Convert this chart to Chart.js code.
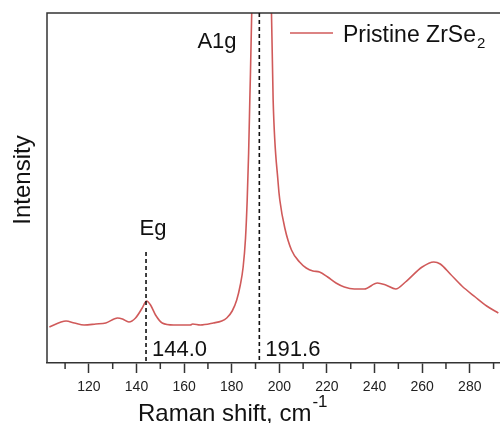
<!DOCTYPE html>
<html>
<head>
<meta charset="utf-8">
<script src="https://cdn.jsdelivr.net/npm/chart.js@4.4.1/dist/chart.umd.min.js"></script>
<style>
  html, body { margin: 0; padding: 0; background: #fff; overflow: hidden; }
  #wrap { width: 500px; height: 423px; position: relative; }
</style>
</head>
<body>
<div id="wrap"><canvas id="ramanChart"></canvas></div>
<script>
// Raman shift (cm^-1) and intensity (arb. units)
var ramanShift = [103.4, 108.3, 110.4, 113.9, 118.0, 122.9, 127.1, 132.0, 134.1, 136.8,
  139.6, 142.4, 144.2, 145.9, 148.0, 150.8, 155.6, 162.6, 163.6, 166.8,
  172.3, 175.8, 177.9, 180.2, 182.1, 183.6, 184.8, 185.8, 186.5, 187.1,
  187.6, 188.4, 189.2, 190.3, 192.4, 194.6, 196.0,
  196.7, 197.4, 199.5, 200.2, 202.3, 205.1, 208.5, 211.3, 214.1, 216.9,
  220.3, 223.8, 227.3, 231.5, 235.7, 241.2, 244.7, 248.9, 253.0, 260.0,
  264.9, 267.6, 271.8, 276.7, 282.3, 287.1, 292.0];
var intensity = [36, 41, 42, 40, 38, 39, 40, 45, 44, 41,
  45, 55, 62, 58, 48, 40, 38, 38, 39, 38,
  40, 42, 45, 52, 63, 78, 96, 125, 163, 210,
  263, 350, 500, 900, 1400, 900, 500,
  350, 263, 180, 163, 135, 113, 101, 95, 92, 91,
  86, 80, 76, 74, 74, 80, 78, 74, 81, 96,
  101, 99, 89, 77, 66, 57, 50];

// peak markers: [position, label, top of dashed line]
var peakPos = [144.0, 191.6];
var peakLabels = ['144.0', '191.6'];
var modeNames = ['Eg', 'A1g'];
var markerTop = [111, 350];

var xTicksMajor = [120, 140, 160, 180, 200, 220, 240, 260, 280];

var points = ramanShift.map(function (x, i) { return { x: x, y: intensity[i] }; });

var textFont = "'Liberation Sans', Arial, sans-serif";

var decorations = {
  id: 'decorations',
  afterDraw: function (chart) {
    var c = chart.ctx, a = chart.chartArea;
    var xs = chart.scales.x, ys = chart.scales.y;
    c.save();

    // frame: left and top
    c.strokeStyle = '#333';
    c.lineWidth = 1.5;
    c.beginPath();
    c.moveTo(a.left, a.bottom);
    c.lineTo(a.left, a.top);
    c.lineTo(a.right, a.top);
    c.stroke();

    // minor ticks
    for (var v = 110; v <= 290; v += 20) {
      var px = xs.getPixelForValue(v);
      c.beginPath();
      c.moveTo(px, a.bottom);
      c.lineTo(px, a.bottom + 6);
      c.stroke();
    }

    // dashed peak markers
    c.strokeStyle = '#111';
    c.lineWidth = 1.6;
    c.setLineDash([4, 3]);
    peakPos.forEach(function (p, i) {
      var px = xs.getPixelForValue(p);
      c.beginPath();
      c.moveTo(px, ys.getPixelForValue(markerTop[i]));
      c.lineTo(px, a.bottom);
      c.stroke();
    });
    c.setLineDash([]);

    c.fillStyle = '#111';
    c.textBaseline = 'alphabetic';

    // peak position labels
    c.font = '22px ' + textFont;
    c.textAlign = 'left';
    peakPos.forEach(function (p, i) {
      c.fillText(peakLabels[i], xs.getPixelForValue(p) + 6, a.bottom - 7);
    });

    // mode names
    c.textAlign = 'center';
    c.fillText(modeNames[0], xs.getPixelForValue(peakPos[0]) + 7, 235);
    c.fillText(modeNames[1], 217, 48);

    // legend
    c.strokeStyle = '#d05a5a';
    c.lineWidth = 1.5;
    c.beginPath();
    c.moveTo(290, 33);
    c.lineTo(333, 33);
    c.stroke();
    c.textAlign = 'left';
    c.font = '23px ' + textFont;
    c.fillText('Pristine ZrSe', 343, 42);
    var lw = c.measureText('Pristine ZrSe').width;
    c.font = '15px ' + textFont;
    c.fillText('2', 343 + lw + 1, 48);

    // x axis title with superscript
    c.font = '24px ' + textFont;
    c.fillText('Raman shift, cm', 138, 421);
    var tw = c.measureText('Raman shift, cm').width;
    c.font = '17px ' + textFont;
    c.fillText('-1', 138 + tw + 1, 407);

    // y axis title
    c.translate(23, 180);
    c.rotate(-Math.PI / 2);
    c.font = '24px ' + textFont;
    c.textAlign = 'center';
    c.textBaseline = 'middle';
    c.fillText('Intensity', 0, 0);

    c.restore();
  }
};

var ctx = document.getElementById('ramanChart').getContext('2d');

var ramanChart = new Chart(ctx, {
  type: 'line',
  data: {
    datasets: [{
      label: 'Pristine ZrSe2',
      data: points,
      borderColor: '#d05a5a',
      borderWidth: 1.6,
      pointRadius: 0,
      fill: false,
      cubicInterpolationMode: 'monotone'
    }]
  },
  options: {
    responsive: true,
    maintainAspectRatio: false,
    animation: false,
    layout: { padding: { left: 47, top: 13, right: 0, bottom: 0 } },
    plugins: {
      legend: { display: false },
      tooltip: { enabled: false }
    },
    scales: {
      x: {
        type: 'linear',
        min: 102.4,
        max: 292.7,
        afterFit: function (scale) { scale.height = 60; },
        border: { display: true, color: '#333', width: 1.5 },
        grid: {
          display: true,
          drawOnChartArea: false,
          drawTicks: true,
          tickLength: 10,
          tickWidth: 1.5,
          tickColor: function (c) {
            return c.tick && xTicksMajor.indexOf(Math.round(c.tick.value)) >= 0 ? '#333' : 'rgba(0,0,0,0)';
          }
        },
        ticks: {
          stepSize: 10,
          includeBounds: false,
          autoSkip: false,
          maxRotation: 0,
          padding: 6,
          color: '#222',
          font: { family: textFont, size: 14 },
          callback: function (value) {
            return xTicksMajor.indexOf(Math.round(value)) >= 0 ? String(Math.round(value)) : '';
          }
        }
      },
      y: {
        display: false,
        min: 0,
        max: 350
      }
    }
  },
  plugins: [decorations]
});
</script>
</body>
</html>
